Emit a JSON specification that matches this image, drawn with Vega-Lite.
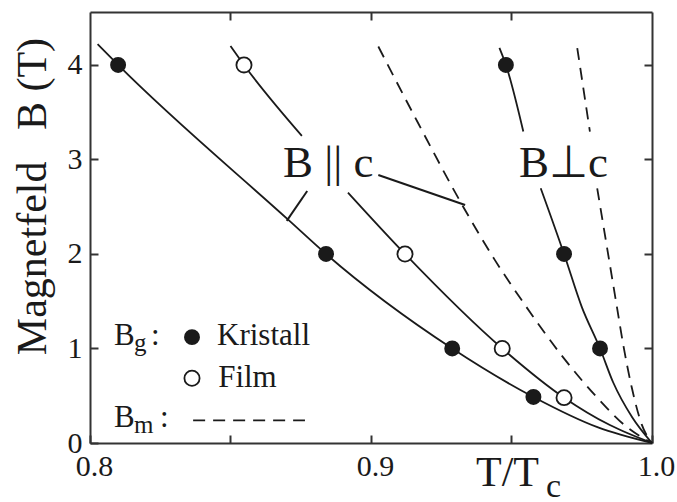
{
  "$schema": "https://vega.github.io/schema/vega-lite/v6.json",
  "width": 562,
  "height": 431,
  "autosize": "none",
  "padding": {"left": 90, "top": 12, "right": 25, "bottom": 59},
  "background": "white",
  "config": {
    "view": {"stroke": null},
    "font": "Liberation Serif",
    "text": {"font": "Liberation Serif"},
    "axis": {
      "grid": false,
      "domainColor": "#333333",
      "domainWidth": 2,
      "tickColor": "#333333",
      "tickWidth": 2,
      "tickSize": -8,
      "labelColor": "#1a1a1a",
      "labelFont": "Liberation Serif",
      "labelFontSize": 30,
      "labelPadding": 16,
      "labelFlush": false,
      "labelOverlap": false,
      "titleFont": "Liberation Serif",
      "titleFontWeight": "normal",
      "titleColor": "#1a1a1a"
    }
  },
  "datasets": {
    "solid": [
      {"curve": "Kristall B||c", "t": 0.8027, "B": 4.22},
      {"curve": "Kristall B||c", "t": 0.810, "B": 4.0},
      {"curve": "Kristall B||c", "t": 0.8712, "B": 2.345},
      {"curve": "Kristall B||c", "t": 0.884, "B": 2.0},
      {"curve": "Kristall B||c", "t": 0.9289, "B": 1.0},
      {"curve": "Kristall B||c", "t": 0.9578, "B": 0.487},
      {"curve": "Kristall B||c", "t": 0.9808, "B": 0.165},
      {"curve": "Kristall B||c", "t": 1.0, "B": 0.0},
      {"curve": "Film B||c oben", "t": 0.850, "B": 4.2},
      {"curve": "Film B||c oben", "t": 0.8548, "B": 4.0},
      {"curve": "Film B||c oben", "t": 0.8754, "B": 3.25},
      {"curve": "Film B||c unten", "t": 0.8918, "B": 2.65},
      {"curve": "Film B||c unten", "t": 0.9121, "B": 2.0},
      {"curve": "Film B||c unten", "t": 0.9467, "B": 1.0},
      {"curve": "Film B||c unten", "t": 0.9687, "B": 0.48},
      {"curve": "Film B||c unten", "t": 0.985, "B": 0.19},
      {"curve": "Film B||c unten", "t": 1.0, "B": 0.0},
      {"curve": "Kristall B⊥c oben", "t": 0.9457, "B": 4.18},
      {"curve": "Kristall B⊥c oben", "t": 0.948, "B": 4.0},
      {"curve": "Kristall B⊥c oben", "t": 0.9542, "B": 3.295},
      {"curve": "Kristall B⊥c unten", "t": 0.9604, "B": 2.695},
      {"curve": "Kristall B⊥c unten", "t": 0.9687, "B": 2.0},
      {"curve": "Kristall B⊥c unten", "t": 0.975, "B": 1.44},
      {"curve": "Kristall B⊥c unten", "t": 0.9815, "B": 1.0},
      {"curve": "Kristall B⊥c unten", "t": 0.9862, "B": 0.64},
      {"curve": "Kristall B⊥c unten", "t": 0.993, "B": 0.27},
      {"curve": "Kristall B⊥c unten", "t": 1.0, "B": 0.0}
    ],
    "dashed": [
      {"curve": "Bm B||c", "t": 0.9026, "B": 4.195},
      {"curve": "Bm B||c", "t": 0.9168, "B": 3.383},
      {"curve": "Bm B||c", "t": 0.9328, "B": 2.5},
      {"curve": "Bm B||c", "t": 0.9441, "B": 1.935},
      {"curve": "Bm B||c", "t": 0.9536, "B": 1.512},
      {"curve": "Bm B||c", "t": 0.9673, "B": 0.947},
      {"curve": "Bm B||c", "t": 0.9803, "B": 0.487},
      {"curve": "Bm B||c", "t": 0.991, "B": 0.17},
      {"curve": "Bm B||c", "t": 1.0, "B": 0.0},
      {"curve": "Bm B⊥c oben", "t": 0.9734, "B": 4.178},
      {"curve": "Bm B⊥c oben", "t": 0.9779, "B": 3.295},
      {"curve": "Bm B⊥c unten", "t": 0.9805, "B": 2.695},
      {"curve": "Bm B⊥c unten", "t": 0.9874, "B": 1.46},
      {"curve": "Bm B⊥c unten", "t": 0.9897, "B": 1.05},
      {"curve": "Bm B⊥c unten", "t": 0.9927, "B": 0.6},
      {"curve": "Bm B⊥c unten", "t": 0.9963, "B": 0.2},
      {"curve": "Bm B⊥c unten", "t": 1.0, "B": 0.0}
    ],
    "kristall": [
      {"t": 0.810, "B": 4},
      {"t": 0.884, "B": 2},
      {"t": 0.9289, "B": 1},
      {"t": 0.9578, "B": 0.487},
      {"t": 0.948, "B": 4},
      {"t": 0.9687, "B": 2},
      {"t": 0.9815, "B": 1}
    ],
    "film": [
      {"t": 0.8548, "B": 4},
      {"t": 0.9121, "B": 2},
      {"t": 0.9467, "B": 1},
      {"t": 0.9687, "B": 0.48}
    ],
    "leaders": [
      {"t": 0.870, "B": 2.35, "t2": 0.8773, "B2": 2.666},
      {"t": 0.9026, "B": 2.836, "t2": 0.9335, "B2": 2.518}
    ],
    "curveLabels": [
      {"t": 0.8687, "B": 2.813, "text": "B || c"},
      {"t": 0.9527, "B": 2.813, "text": "B⊥c"}
    ],
    "legendText": [
      {"t": 0.8085, "B": 1.035, "text": "B"},
      {"t": 0.8217, "B": 1.035, "text": ":"},
      {"t": 0.8452, "B": 1.035, "text": "Kristall"},
      {"t": 0.8456, "B": 0.59, "text": "Film"},
      {"t": 0.8085, "B": 0.166, "text": "B"},
      {"t": 0.8249, "B": 0.166, "text": ":"}
    ],
    "legendSub": [
      {"t": 0.8157, "B": 0.971, "text": "g"},
      {"t": 0.8157, "B": 0.103, "text": "m"}
    ],
    "legendKristall": [{"t": 0.8363, "B": 1.12}],
    "legendFilm": [{"t": 0.8363, "B": 0.685}],
    "legendDash": [{"t": 0.8367, "t2": 0.8765, "B": 0.24}],
    "titleSub": [{"t": 0.9623, "B": -0.57, "text": "c"}]
  },
  "layer": [
    {
      "data": {"name": "solid"},
      "mark": {"type": "line", "interpolate": "monotone", "color": "#1a1a1a", "strokeWidth": 1.8},
      "encoding": {
        "x": {
          "field": "t", "type": "quantitative",
          "scale": {"domain": [0.8, 1.0], "nice": false, "zero": false},
          "axis": {
            "orient": "bottom",
            "values": [0.8, 0.85, 0.9, 0.95, 1.0],
            "labelExpr": "datum.value == 0.85 || datum.value == 0.95 ? '' : format(datum.value, '.1f')",
            "labelFont": "Liberation Serif",
            "labelOffset": 4,
            "title": "T/T",
            "titleFont": "Liberation Serif",
            "titleFontSize": 42,
            "titleX": 417,
            "titleY": 42,
            "titleBaseline": "alphabetic"
          }
        },
        "y": {
          "field": "B", "type": "quantitative",
          "scale": {"domain": [0, 4.56], "nice": false},
          "axis": {
            "orient": "left",
            "values": [0, 1, 2, 3, 4],
            "format": "d",
            "labelFont": "Liberation Serif",
            "title": "Magnetfeld\u00a0\u00a0\u00a0B (T)",
            "titleFont": "Liberation Serif",
            "titleFontSize": 42,
            "titleX": -45,
            "titleY": 184,
            "titleBaseline": "alphabetic"
          }
        },
        "detail": {"field": "curve", "type": "nominal"}
      }
    },
    {
      "data": {"name": "dashed"},
      "mark": {"type": "line", "interpolate": "monotone", "color": "#1a1a1a", "strokeWidth": 1.8, "strokeDash": [12, 8]},
      "encoding": {
        "x": {
          "field": "t", "type": "quantitative",
          "axis": {"orient": "top", "values": [0.85, 0.9, 0.95], "labels": false, "title": null}
        },
        "y": {
          "field": "B", "type": "quantitative",
          "axis": {"orient": "right", "values": [1, 2, 3, 4], "labels": false, "title": null}
        },
        "detail": {"field": "curve", "type": "nominal"}
      }
    },
    {
      "data": {"name": "leaders"},
      "mark": {"type": "rule", "color": "#1a1a1a", "strokeWidth": 2},
      "encoding": {
        "x": {"field": "t", "type": "quantitative", "axis": null},
        "y": {"field": "B", "type": "quantitative", "axis": null},
        "x2": {"field": "t2"},
        "y2": {"field": "B2"}
      }
    },
    {
      "data": {"name": "legendDash"},
      "mark": {"type": "rule", "color": "#1a1a1a", "strokeWidth": 1.8, "strokeDash": [12, 8]},
      "encoding": {
        "x": {"field": "t", "type": "quantitative", "axis": null},
        "x2": {"field": "t2"},
        "y": {"field": "B", "type": "quantitative", "axis": null}
      }
    },
    {
      "data": {"name": "kristall"},
      "mark": {"type": "point", "shape": "circle", "filled": true, "color": "#1a1a1a", "opacity": 1, "size": 254},
      "encoding": {
        "x": {"field": "t", "type": "quantitative", "axis": null},
        "y": {"field": "B", "type": "quantitative", "axis": null}
      }
    },
    {
      "data": {"name": "legendKristall"},
      "mark": {"type": "point", "shape": "circle", "filled": true, "color": "#1a1a1a", "opacity": 1, "size": 254},
      "encoding": {
        "x": {"field": "t", "type": "quantitative", "axis": null},
        "y": {"field": "B", "type": "quantitative", "axis": null}
      }
    },
    {
      "data": {"name": "film"},
      "mark": {"type": "point", "shape": "circle", "filled": false, "fill": "white", "stroke": "#1a1a1a", "strokeWidth": 1.8, "opacity": 1, "size": 230},
      "encoding": {
        "x": {"field": "t", "type": "quantitative", "axis": null},
        "y": {"field": "B", "type": "quantitative", "axis": null}
      }
    },
    {
      "data": {"name": "legendFilm"},
      "mark": {"type": "point", "shape": "circle", "filled": false, "fill": "white", "stroke": "#1a1a1a", "strokeWidth": 1.8, "opacity": 1, "size": 230},
      "encoding": {
        "x": {"field": "t", "type": "quantitative", "axis": null},
        "y": {"field": "B", "type": "quantitative", "axis": null}
      }
    },
    {
      "data": {"name": "curveLabels"},
      "mark": {"type": "text", "align": "left", "baseline": "alphabetic", "fontSize": 45, "color": "#1a1a1a", "font": "Liberation Serif"},
      "encoding": {
        "x": {"field": "t", "type": "quantitative", "axis": null},
        "y": {"field": "B", "type": "quantitative", "axis": null},
        "text": {"field": "text"}
      }
    },
    {
      "data": {"name": "legendText"},
      "mark": {"type": "text", "align": "left", "baseline": "alphabetic", "fontSize": 31, "color": "#1a1a1a", "font": "Liberation Serif"},
      "encoding": {
        "x": {"field": "t", "type": "quantitative", "axis": null},
        "y": {"field": "B", "type": "quantitative", "axis": null},
        "text": {"field": "text"}
      }
    },
    {
      "data": {"name": "legendSub"},
      "mark": {"type": "text", "align": "left", "baseline": "alphabetic", "fontSize": 25, "color": "#1a1a1a", "font": "Liberation Serif"},
      "encoding": {
        "x": {"field": "t", "type": "quantitative", "axis": null},
        "y": {"field": "B", "type": "quantitative", "axis": null},
        "text": {"field": "text"}
      }
    },
    {
      "data": {"name": "titleSub"},
      "mark": {"type": "text", "align": "left", "baseline": "alphabetic", "fontSize": 34, "color": "#1a1a1a", "font": "Liberation Serif", "clip": false},
      "encoding": {
        "x": {"field": "t", "type": "quantitative", "axis": null},
        "y": {"field": "B", "type": "quantitative", "axis": null},
        "text": {"field": "text"}
      }
    }
  ]
}
